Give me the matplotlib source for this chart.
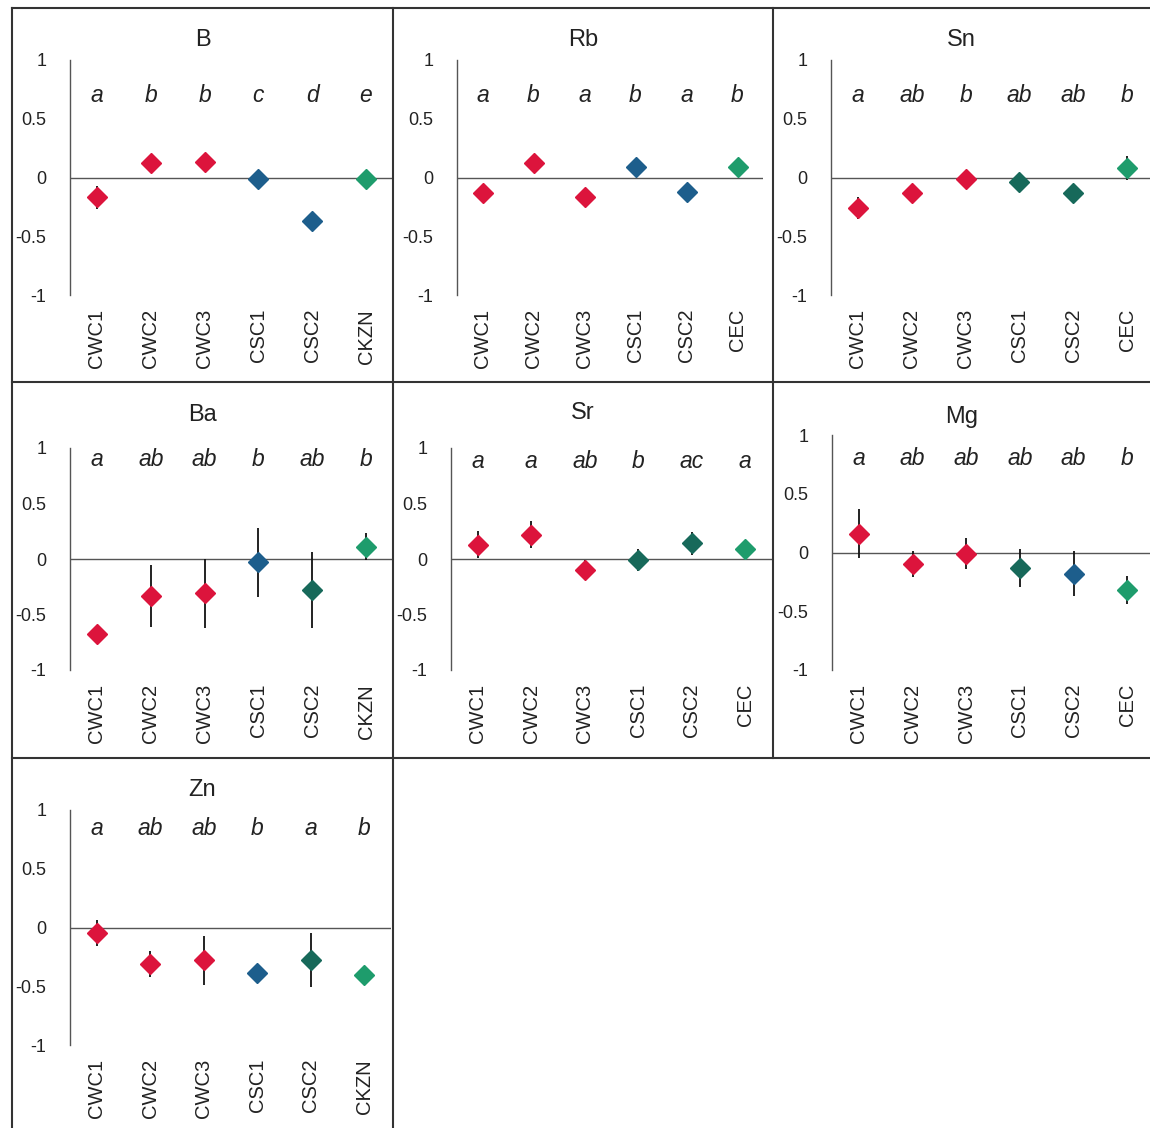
import matplotlib
matplotlib.use("Agg")
import matplotlib.pyplot as plt
from matplotlib.lines import Line2D

plt.rcParams['font.family'] = ['Liberation Sans', 'DejaVu Sans']

W, H = 1150, 1128

# ---- data -------------------------------------------------------------
elements = ['B', 'Rb', 'Sn', 'Ba', 'Sr', 'Mg', 'Zn']

labels_kzn = ['CWC1', 'CWC2', 'CWC3', 'CSC1', 'CSC2', 'CKZN']
labels_cec = ['CWC1', 'CWC2', 'CWC3', 'CSC1', 'CSC2', 'CEC']

b_mean = [-0.17, 0.12, 0.13, -0.01, -0.37, -0.01]
b_err = [0.10, 0.03, 0.03, 0.03, 0.03, 0.02]
b_letters = ['a', 'b', 'b', 'c', 'd', 'e']

rb_mean = [-0.13, 0.12, -0.17, 0.09, -0.12, 0.09]
rb_err = [0.03, 0.03, 0.03, 0.03, 0.03, 0.02]
rb_letters = ['a', 'b', 'a', 'b', 'a', 'b']

sn_mean = [-0.26, -0.13, -0.01, -0.04, -0.13, 0.08]
sn_err = [0.09, 0.05, 0.05, 0.03, 0.04, 0.10]
sn_letters = ['a', 'ab', 'b', 'ab', 'ab', 'b']

ba_mean = [-0.68, -0.33, -0.31, -0.03, -0.28, 0.11]
ba_err = [0.08, 0.28, 0.31, 0.31, 0.34, 0.12]
ba_letters = ['a', 'ab', 'ab', 'b', 'ab', 'b']

sr_mean = [0.13, 0.22, -0.10, -0.01, 0.14, 0.09]
sr_err = [0.12, 0.12, 0.09, 0.10, 0.10, 0.03]
sr_letters = ['a', 'a', 'ab', 'b', 'ac', 'a']

mg_mean = [0.16, -0.10, -0.01, -0.13, -0.18, -0.32]
mg_err = [0.21, 0.11, 0.13, 0.16, 0.19, 0.12]
mg_letters = ['a', 'ab', 'ab', 'ab', 'ab', 'b']

zn_mean = [-0.05, -0.31, -0.28, -0.39, -0.28, -0.40]
zn_err = [0.11, 0.11, 0.21, 0.05, 0.23, 0.03]
zn_letters = ['a', 'ab', 'ab', 'b', 'a', 'b']

# ---- styles -----------------------------------------------------------
RED = '#dc143c'
BLUE = '#1d5e8c'
TEAL = '#17695a'
GREEN = '#1e9c6c'

panels = [
    # name, labels, mean, err, letters, colours, letter y
    ('B', labels_kzn, b_mean, b_err, b_letters, [RED, RED, RED, BLUE, BLUE, GREEN], 0.70),
    ('Rb', labels_cec, rb_mean, rb_err, rb_letters, [RED, RED, RED, BLUE, BLUE, GREEN], 0.70),
    ('Sn', labels_cec, sn_mean, sn_err, sn_letters, [RED, RED, RED, TEAL, TEAL, GREEN], 0.70),
    ('Ba', labels_kzn, ba_mean, ba_err, ba_letters, [RED, RED, RED, BLUE, TEAL, GREEN], 0.90),
    ('Sr', labels_cec, sr_mean, sr_err, sr_letters, [RED, RED, RED, TEAL, TEAL, GREEN], 0.88),
    ('Mg', labels_cec, mg_mean, mg_err, mg_letters, [RED, RED, RED, TEAL, BLUE, GREEN], 0.80),
    ('Zn', labels_kzn, zn_mean, zn_err, zn_letters, [RED, RED, RED, BLUE, TEAL, GREEN], 0.84),
]

# axes boxes in pixels: left, right, top (y=1), bottom (y=-1)
boxes = [
    (70, 393, 60, 295),
    (457, 763, 60, 295),
    (831, 1154, 60, 295),
    (70, 393, 448, 670),
    (451, 772, 448, 670),
    (832, 1154, 435, 670),
    (70, 391, 810, 1045),
]
# cells: left, right, title centre y
cells = [
    (12, 393, 40), (393, 773, 40), (773, 1150, 40),
    (12, 393, 415), (393, 773, 413), (773, 1150, 417),
    (12, 393, 790),
]

fig = plt.figure(figsize=(W / 100, H / 100), dpi=100)


def fx(x):
    return x / W


def fy(y):
    return 1 - y / H


for (name, labels, mean, err, letters, colors, ly), box, cell in zip(panels, boxes, cells):
    l, r, t, b = box
    ax = fig.add_axes([fx(l), fy(b), fx(r) - fx(l), fy(t) - fy(b)])
    ax.set_xlim(-0.5, 5.5)
    ax.set_ylim(-1, 1)
    for s in ['top', 'right', 'bottom']:
        ax.spines[s].set_visible(False)
    ax.spines['left'].set_color('#555555')
    ax.spines['left'].set_linewidth(1.0)
    ax.axhline(0, color='#555555', lw=1.0, zorder=1)
    ax.set_yticks([-1, -0.5, 0, 0.5, 1])
    ax.set_yticklabels(['-1', '-0.5', '0', '0.5', '1'])
    ax.tick_params(axis='y', length=0, pad=17, labelsize=13, labelcolor='#222222')
    ax.set_xticks(range(len(labels)))
    ax.set_xticklabels(labels, rotation=90)
    ax.tick_params(axis='x', length=0, pad=10, labelsize=14.5, labelcolor='#222222')
    for i in range(len(mean)):
        ax.errorbar(i, mean[i], yerr=err[i], fmt='none', ecolor='#111111',
                    elinewidth=1.3, capsize=0, zorder=2)
        ax.plot(i, mean[i], marker='D', ms=10, color=colors[i],
                mec=colors[i], zorder=3, clip_on=False)
        ax.text(i, ly, letters[i], ha='center', va='center', fontsize=16.5,
                style='italic', color='#222222')
    fig.text(fx((cell[0] + cell[1]) / 2), fy(cell[2]), name, ha='center',
             va='center', fontsize=17, color='#222222')

# cell borders
border = dict(color='#333333', lw=1.5)
segments = [
    ((12, 1150), (8, 8)),
    ((12, 1150), (382, 382)),
    ((12, 1150), (758, 758)),
    ((12, 12), (8, 1128)),
    ((393, 393), (8, 1128)),
    ((773, 773), (8, 758)),
]
for xs, ys in segments:
    fig.add_artist(Line2D([fx(xs[0]), fx(xs[1])], [fy(ys[0]), fy(ys[1])], **border))

fig.savefig('out.png', dpi=100)
